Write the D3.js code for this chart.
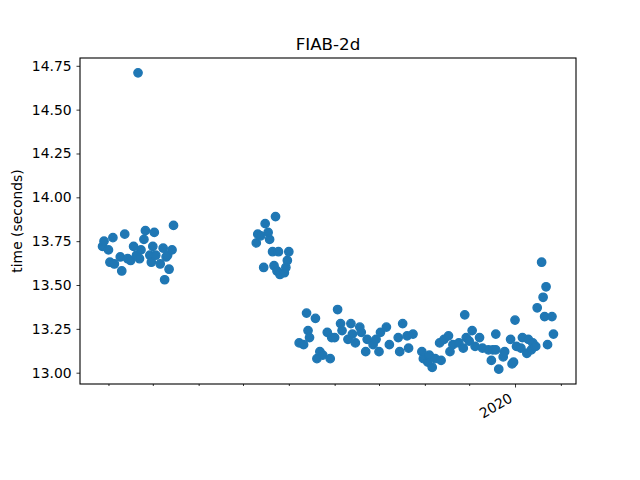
<!DOCTYPE html>
<html>
<head>
<meta charset="utf-8">
<script src="https://cdn.jsdelivr.net/npm/d3@7"></script>
<style>
    body { margin: 0; background: #ffffff; }
    text { font-family: "DejaVu Sans", sans-serif; fill: #000000; }
    .axis path, .axis line { stroke: #000000; stroke-width: 0.8; }
</style>
</head>
<body>
<script>
//chart data
var chartTitle = "FIAB-2d";
var yLabel = "time (seconds)";

//run dates (one per point)
var runDates = [
    //spring 2019
    "2019-03-28", "2019-03-29", "2019-04-01", "2019-04-02", "2019-04-04", "2019-04-05",
    "2019-04-09", "2019-04-10", "2019-04-12", "2019-04-14", "2019-04-16", "2019-04-18",
    "2019-04-20", "2019-04-21", "2019-04-22", "2019-04-23", "2019-04-25", "2019-04-26",
    "2019-04-29", "2019-04-30", "2019-05-01", "2019-05-02", "2019-05-03", "2019-05-06",
    "2019-05-08", "2019-05-09", "2019-05-10", "2019-05-11", "2019-05-12", "2019-05-14",
    "2019-05-15",
    //summer 2019
    "2019-07-10", "2019-07-11", "2019-07-13", "2019-07-15", "2019-07-16", "2019-07-18",
    "2019-07-19", "2019-07-21", "2019-07-22", "2019-07-23", "2019-07-24", "2019-07-25",
    "2019-07-26", "2019-07-29", "2019-07-30", "2019-07-31", "2019-08-01",
    //after the drop
    "2019-08-08", "2019-08-11", "2019-08-13", "2019-08-14", "2019-08-15", "2019-08-19",
    "2019-08-20", "2019-08-22", "2019-08-24", "2019-08-27", "2019-08-29", "2019-08-30",
    "2019-09-01", "2019-09-03", "2019-09-05", "2019-09-06", "2019-09-10", "2019-09-12",
    "2019-09-13", "2019-09-15", "2019-09-18", "2019-09-19", "2019-09-22", "2019-09-23",
    "2019-09-27", "2019-09-29", "2019-10-01", "2019-10-02", "2019-10-06", "2019-10-08",
    "2019-10-14", "2019-10-15", "2019-10-17", "2019-10-20", "2019-10-21", "2019-10-24",
    "2019-10-30", "2019-10-31", "2019-11-03", "2019-11-04", "2019-11-06", "2019-11-08",
    "2019-11-11", "2019-11-12", "2019-11-14", "2019-11-17", "2019-11-18", "2019-11-20",
    "2019-11-24", "2019-11-27", "2019-11-28", "2019-11-29", "2019-12-01", "2019-12-03",
    "2019-12-05", "2019-12-08", "2019-12-10", "2019-12-14", "2019-12-16", "2019-12-17",
    "2019-12-19", "2019-12-19", "2019-12-21", "2019-12-24", "2019-12-25", "2019-12-29",
    "2019-12-30", "2019-12-31", "2020-01-01", "2020-01-02", "2020-01-05", "2020-01-06",
    "2020-01-09", "2020-01-10", "2020-01-12", "2020-01-13", "2020-01-15", "2020-01-16",
    "2020-01-19", "2020-01-20", "2020-01-21", "2020-01-22", "2020-01-23", "2020-01-26",
    "2020-01-27"
];

//measured times in seconds, same order as runDates
var runTimes = [
    13.72, 13.75, 13.70, 13.63, 13.77, 13.62,
    13.66, 13.58, 13.79, 13.65, 13.64, 13.72,
    13.67, 14.71, 13.65, 13.70, 13.76, 13.81,
    13.67, 13.63, 13.72, 13.80, 13.67, 13.62,
    13.71, 13.53, 13.66, 13.67, 13.59, 13.70,
    13.84,
    13.74, 13.79, 13.78, 13.60, 13.85, 13.80,
    13.76, 13.69, 13.61, 13.89, 13.58, 13.69,
    13.56, 13.57, 13.60, 13.64, 13.69,
    13.17, 13.16, 13.34, 13.24, 13.20, 13.31,
    13.08, 13.12, 13.10, 13.23, 13.08, 13.20,
    13.20, 13.36, 13.28, 13.24, 13.19, 13.28,
    13.22, 13.17, 13.26, 13.23, 13.12, 13.19,
    13.16, 13.19, 13.12, 13.23, 13.26, 13.16,
    13.20, 13.12, 13.28, 13.21, 13.14, 13.22,
    13.12, 13.08, 13.06, 13.10, 13.03, 13.08,
    13.17, 13.07, 13.19, 13.21, 13.12, 13.16,
    13.17, 13.14, 13.33, 13.20, 13.18, 13.24,
    13.15, 13.20, 13.14, 13.13, 13.07, 13.13,
    13.22, 13.13, 13.02, 13.09, 13.12, 13.19,
    13.05, 13.06, 13.30, 13.15, 13.14, 13.20,
    13.11, 13.19, 13.13, 13.17, 13.15, 13.37,
    13.63, 13.43, 13.32, 13.49, 13.16, 13.32,
    13.22
];

//y tick labels
var yTicks = [13.00, 13.25, 13.50, 13.75, 14.00, 14.25, 14.50, 14.75];

(function () {

    var width = 640,
        height = 480,
        left = 80,
        right = 576,
        top = 58,
        bottom = 384;

    var parseDate = d3.utcParse("%Y-%m-%d");

    //join dates and times into point records
    var points = runDates.map(function (d, i) {
        return { date: parseDate(d), time: runTimes[i] };
    });

    var svg = d3.select("body")
        .append("svg")
        .attr("width", width)
        .attr("height", height);

    //matplotlib style 5% margins around the data
    var xExt = d3.extent(points, function (d) { return d.date.getTime(); }),
        xPad = (xExt[1] - xExt[0]) * 0.05;
    var yExt = d3.extent(points, function (d) { return d.time; }),
        yPad = (yExt[1] - yExt[0]) * 0.05;

    var xScale = d3.scaleUtc()
        .domain([new Date(xExt[0] - xPad), new Date(xExt[1] + xPad)])
        .range([left, right]);

    var yScale = d3.scaleLinear()
        .domain([yExt[0] - yPad, yExt[1] + yPad])
        .range([bottom, top]);

    //scatter points
    svg.append("g")
        .selectAll("circle")
        .data(points)
        .enter()
        .append("circle")
        .attr("cx", function (d) { return xScale(d.date); })
        .attr("cy", function (d) { return yScale(d.time); })
        .attr("r", 4.17)
        .style("fill", "#1f77b4")
        .style("stroke", "#1f77b4")
        .style("stroke-width", 1.39);

    //minor x ticks: first of each month
    var months = d3.utcMonth.range(xScale.domain()[0], xScale.domain()[1])
        .filter(function (d) { return d.getUTCMonth() !== 0; });
    var years = d3.utcYear.range(xScale.domain()[0], xScale.domain()[1]);

    svg.append("g")
        .attr("class", "axis")
        .attr("transform", "translate(0," + bottom + ")")
        .call(d3.axisBottom(xScale).tickValues(months).tickSize(2).tickFormat(""))
        .call(function (g) { g.select(".domain").remove(); });

    //major x ticks: years
    var xMajor = svg.append("g")
        .attr("class", "axis")
        .attr("transform", "translate(0," + bottom + ")")
        .call(d3.axisBottom(xScale).tickValues(years).tickSize(3.5).tickFormat(""))
        .call(function (g) { g.select(".domain").remove(); });

    //rotated year labels
    svg.append("g")
        .selectAll("text")
        .data(years)
        .enter()
        .append("text")
        .attr("transform", function (d) {
            return "translate(" + (xScale(d) - 1.5) + "," + (bottom + 17) + ") rotate(-30)";
        })
        .attr("text-anchor", "end")
        .style("font-size", "13.9px")
        .text(function (d) { return d3.utcFormat("%Y")(d); });

    //y axis
    var yAxis = svg.append("g")
        .attr("class", "axis")
        .attr("transform", "translate(" + left + ",0)")
        .call(d3.axisLeft(yScale).tickValues(yTicks).tickSize(3.5).tickPadding(4.9).tickFormat(d3.format(".2f")));
    yAxis.select(".domain").remove();
    yAxis.selectAll("text")
        .style("font-size", "13.9px")
        .style("font-family", "DejaVu Sans");

    //frame around the plot area
    svg.append("rect")
        .attr("x", left)
        .attr("y", top)
        .attr("width", right - left)
        .attr("height", bottom - top)
        .style("fill", "none")
        .style("stroke", "#000000")
        .style("stroke-width", 1.1);

    //title
    svg.append("text")
        .attr("x", (left + right) / 2)
        .attr("y", top - 8.3)
        .attr("text-anchor", "middle")
        .style("font-size", "16.7px")
        .text(chartTitle);

    //y axis label
    svg.append("text")
        .attr("transform", "translate(22," + ((top + bottom) / 2) + ") rotate(-90)")
        .attr("text-anchor", "middle")
        .style("font-size", "13.9px")
        .text(yLabel);

})();
</script>
</body>
</html>
